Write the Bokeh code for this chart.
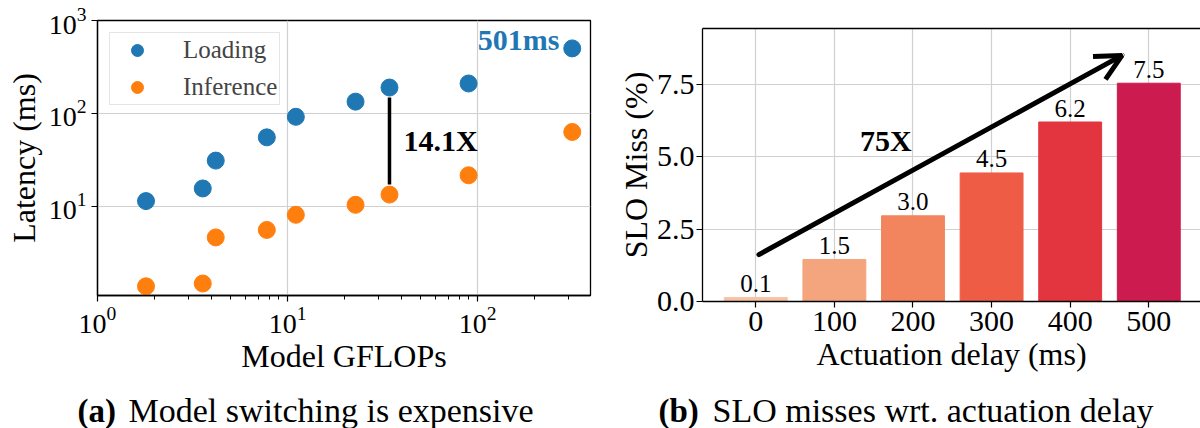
from bokeh.plotting import figure
from bokeh.models import (ColumnDataSource, Range1d, FixedTicker, Label, Arrow,
                          OpenHead, Legend, LegendItem, NumeralTickFormatter, LinearAxis)
from bokeh.layouts import row, column
from bokeh.embed import file_html
from bokeh.resources import INLINE
from bokeh.core.properties import value

FONT = "Liberation Serif"

# ---- (a) data ----
gflops = [1.80, 3.58, 4.19, 7.78, 11.06, 22.8, 34.4, 89.7, 315]
loading_ms = [11.4, 15.6, 31.1, 55.3, 92.0, 134.0, 190.0, 210.0, 501.0]
inference_ms = [1.38, 1.48, 4.64, 5.58, 8.12, 10.4, 13.4, 21.6, 63.2]
series_names = ["Loading", "Inference"]
series_colors = ["#1f77b4", "#ff7f0e"]

# ---- (b) data ----
delays = [0, 100, 200, 300, 400, 500]
delay_labels = ["0", "100", "200", "300", "400", "500"]
slo_miss = [0.14, 1.45, 2.96, 4.44, 6.20, 7.54]
slo_labels = ["0.1", "1.5", "3.0", "4.5", "6.2", "7.5"]
bar_colors = ["#f6c4a4", "#f4a57e", "#f2855e", "#ef5c45", "#e3353f", "#cb1b4f"]
y_ticks_b = [0.0, 2.5, 5.0, 7.5]

# ---- captions ----
caption_tags = ["(a)", "(b)"]
caption_texts = ["Model switching is expensive", "SLO misses wrt. actuation delay"]

GRID = "#d0d0d0"
W, H_MAIN, H_CAP = 600, 388, 40


def style_axes(p, tick_size):
    for ax in p.axis:
        ax.axis_line_color = "black"
        ax.axis_line_width = 1.3
        ax.major_tick_line_color = "black"
        ax.major_tick_line_width = 1.2
        ax.major_tick_out = 6
        ax.major_tick_in = 0
        ax.minor_tick_line_color = None
        ax.major_label_text_font = FONT
        ax.major_label_text_font_size = tick_size
        ax.major_label_text_color = "black"
        ax.major_label_standoff = 5
        ax.axis_label_text_font = FONT
        ax.axis_label_text_font_size = "32px"
        ax.axis_label_text_font_style = "normal"
        ax.axis_label_text_color = "black"
        ax.axis_label_standoff = 5
    for g in p.grid:
        g.grid_line_color = GRID
        g.grid_line_width = 1.2


# ================= (a) =================
p1 = figure(width=W, height=H_MAIN, x_axis_type="log", y_axis_type="log",
            x_range=Range1d(1, 393), y_range=Range1d(1.1, 1000),
            output_backend="svg", toolbar_location=None,
            min_border_left=97, min_border_right=10,
            min_border_top=20, min_border_bottom=H_MAIN - 295)
p1.outline_line_color = "black"
p1.outline_line_width = 1.3
p1.xaxis.axis_label = "Model GFLOPs"
p1.yaxis.axis_label = "Latency (ms)"
style_axes(p1, "28px")
p1.yaxis.major_label_standoff = 5
p1.yaxis.axis_label_standoff = 4
p1.xaxis.axis_label_standoff = 2
p1.xaxis.minor_tick_line_color = "black"
p1.xaxis.minor_tick_line_width = 1
p1.xaxis.minor_tick_out = 4
p1.xaxis.minor_tick_in = 0

r_load = p1.scatter(gflops, loading_ms, size=17, color=series_colors[0])
r_inf = p1.scatter(gflops, inference_ms, size=17, color=series_colors[1])

# gap line between loading / inference at the 7th model
p1.segment(x0=[gflops[6]], y0=[loading_ms[6] * 0.78],
           x1=[gflops[6]], y1=[inference_ms[6] * 1.28],
           line_color="black", line_width=3.5)

legend = Legend(items=[LegendItem(label=series_names[0], renderers=[r_load]),
                       LegendItem(label=series_names[1], renderers=[r_inf])],
                location="top_left", margin=12, padding=2, spacing=7,
                glyph_width=50, glyph_height=30, label_height=30,
                label_standoff=21,
                label_text_font=FONT, label_text_font_size="25px",
                border_line_color="#cccccc", border_line_width=1.2,
                background_fill_alpha=0.8)
p1.add_layout(legend)

p1.add_layout(Label(x=40.8, y=51.8, text="14.1X", text_font=FONT,
                    text_font_size="30px", text_font_style="bold",
                    text_align="left", text_baseline="middle",
                    text_color="black"))
p1.add_layout(Label(x=270, y=632, text="501ms", text_font=FONT,
                    text_font_size="30px", text_font_style="bold",
                    text_align="right", text_baseline="middle",
                    text_color=series_colors[0]))

# ================= (b) =================
p2 = figure(width=W, height=H_MAIN,
            x_range=Range1d(-67.8, 565.8), y_range=Range1d(0, 9.43),
            output_backend="svg", toolbar_location=None,
            min_border_left=102, min_border_right=0,
            min_border_top=28, min_border_bottom=H_MAIN - 301)
p2.outline_line_color = None
p2.xaxis.axis_label = "Actuation delay (ms)"
p2.yaxis.axis_label = "SLO Miss (%)"
p2.xaxis.ticker = FixedTicker(ticks=delays)
p2.xaxis.major_label_overrides = {d: lab for d, lab in zip(delays, delay_labels)}
p2.yaxis.ticker = FixedTicker(ticks=y_ticks_b)
p2.yaxis.formatter = NumeralTickFormatter(format="0.0")
style_axes(p2, "30px")
p2.yaxis.major_label_standoff = 2
p2.yaxis.axis_label_standoff = 0
p2.xaxis.major_label_standoff = 4
p2.xaxis.axis_label_standoff = 2

top_axis = LinearAxis(axis_line_color="black", axis_line_width=1.3,
                      major_tick_line_color=None, minor_tick_line_color=None,
                      major_label_text_font_size="0px", major_label_text_color=None,
                      ticker=FixedTicker(ticks=[]))
p2.add_layout(top_axis, "above")

src = ColumnDataSource(dict(x=delays, top=slo_miss, color=bar_colors, lab=slo_labels))
p2.vbar(x="x", top="top", width=80, color="color", source=src)
p2.text(x="x", y="top", text="lab", source=src, text_align="center",
        text_baseline="alphabetic", y_offset=-14, text_font=value(FONT),
        text_font_size="25px", text_color="black")

p2.add_layout(Arrow(end=OpenHead(size=26, line_width=5, line_color="black"),
                    x_start=4, y_start=1.62, x_end=466, y_end=8.5,
                    line_width=5, line_color="black", line_cap="round"))
p2.add_layout(Label(x=165.6, y=5.55, text="75X", text_font=FONT,
                    text_font_size="30px", text_font_style="bold",
                    text_align="center", text_baseline="middle",
                    text_color="black"))

# ================= captions (one strip across both panels) =================
cap = figure(width=2 * W, height=H_CAP, x_range=Range1d(0, 2 * W), y_range=Range1d(0, H_CAP),
             output_backend="svg", toolbar_location=None, min_border=0,
             x_axis_location=None, y_axis_location=None)
cap.grid.visible = False
cap.outline_line_color = None
cap_src = ColumnDataSource(dict(tag=caption_tags, text=caption_texts,
                                x_tag=[77, 658], x_text=[128, 712], y=[18, 18]))
cap.text(x="x_tag", y="y", text="tag", source=cap_src, text_font=value(FONT),
         text_font_size="33px", text_font_style="bold", text_align="left",
         text_baseline="middle", text_color="black")
cap.text(x="x_text", y="y", text="text", source=cap_src, text_font=value(FONT),
         text_font_size="34px", text_align="left", text_baseline="middle",
         text_color="black")

# each panel wrapped in its own column so their frames are not aligned together
layout = column(row(column(p1), column(p2)), cap)
open("out.html", "w").write(file_html(layout, INLINE))
